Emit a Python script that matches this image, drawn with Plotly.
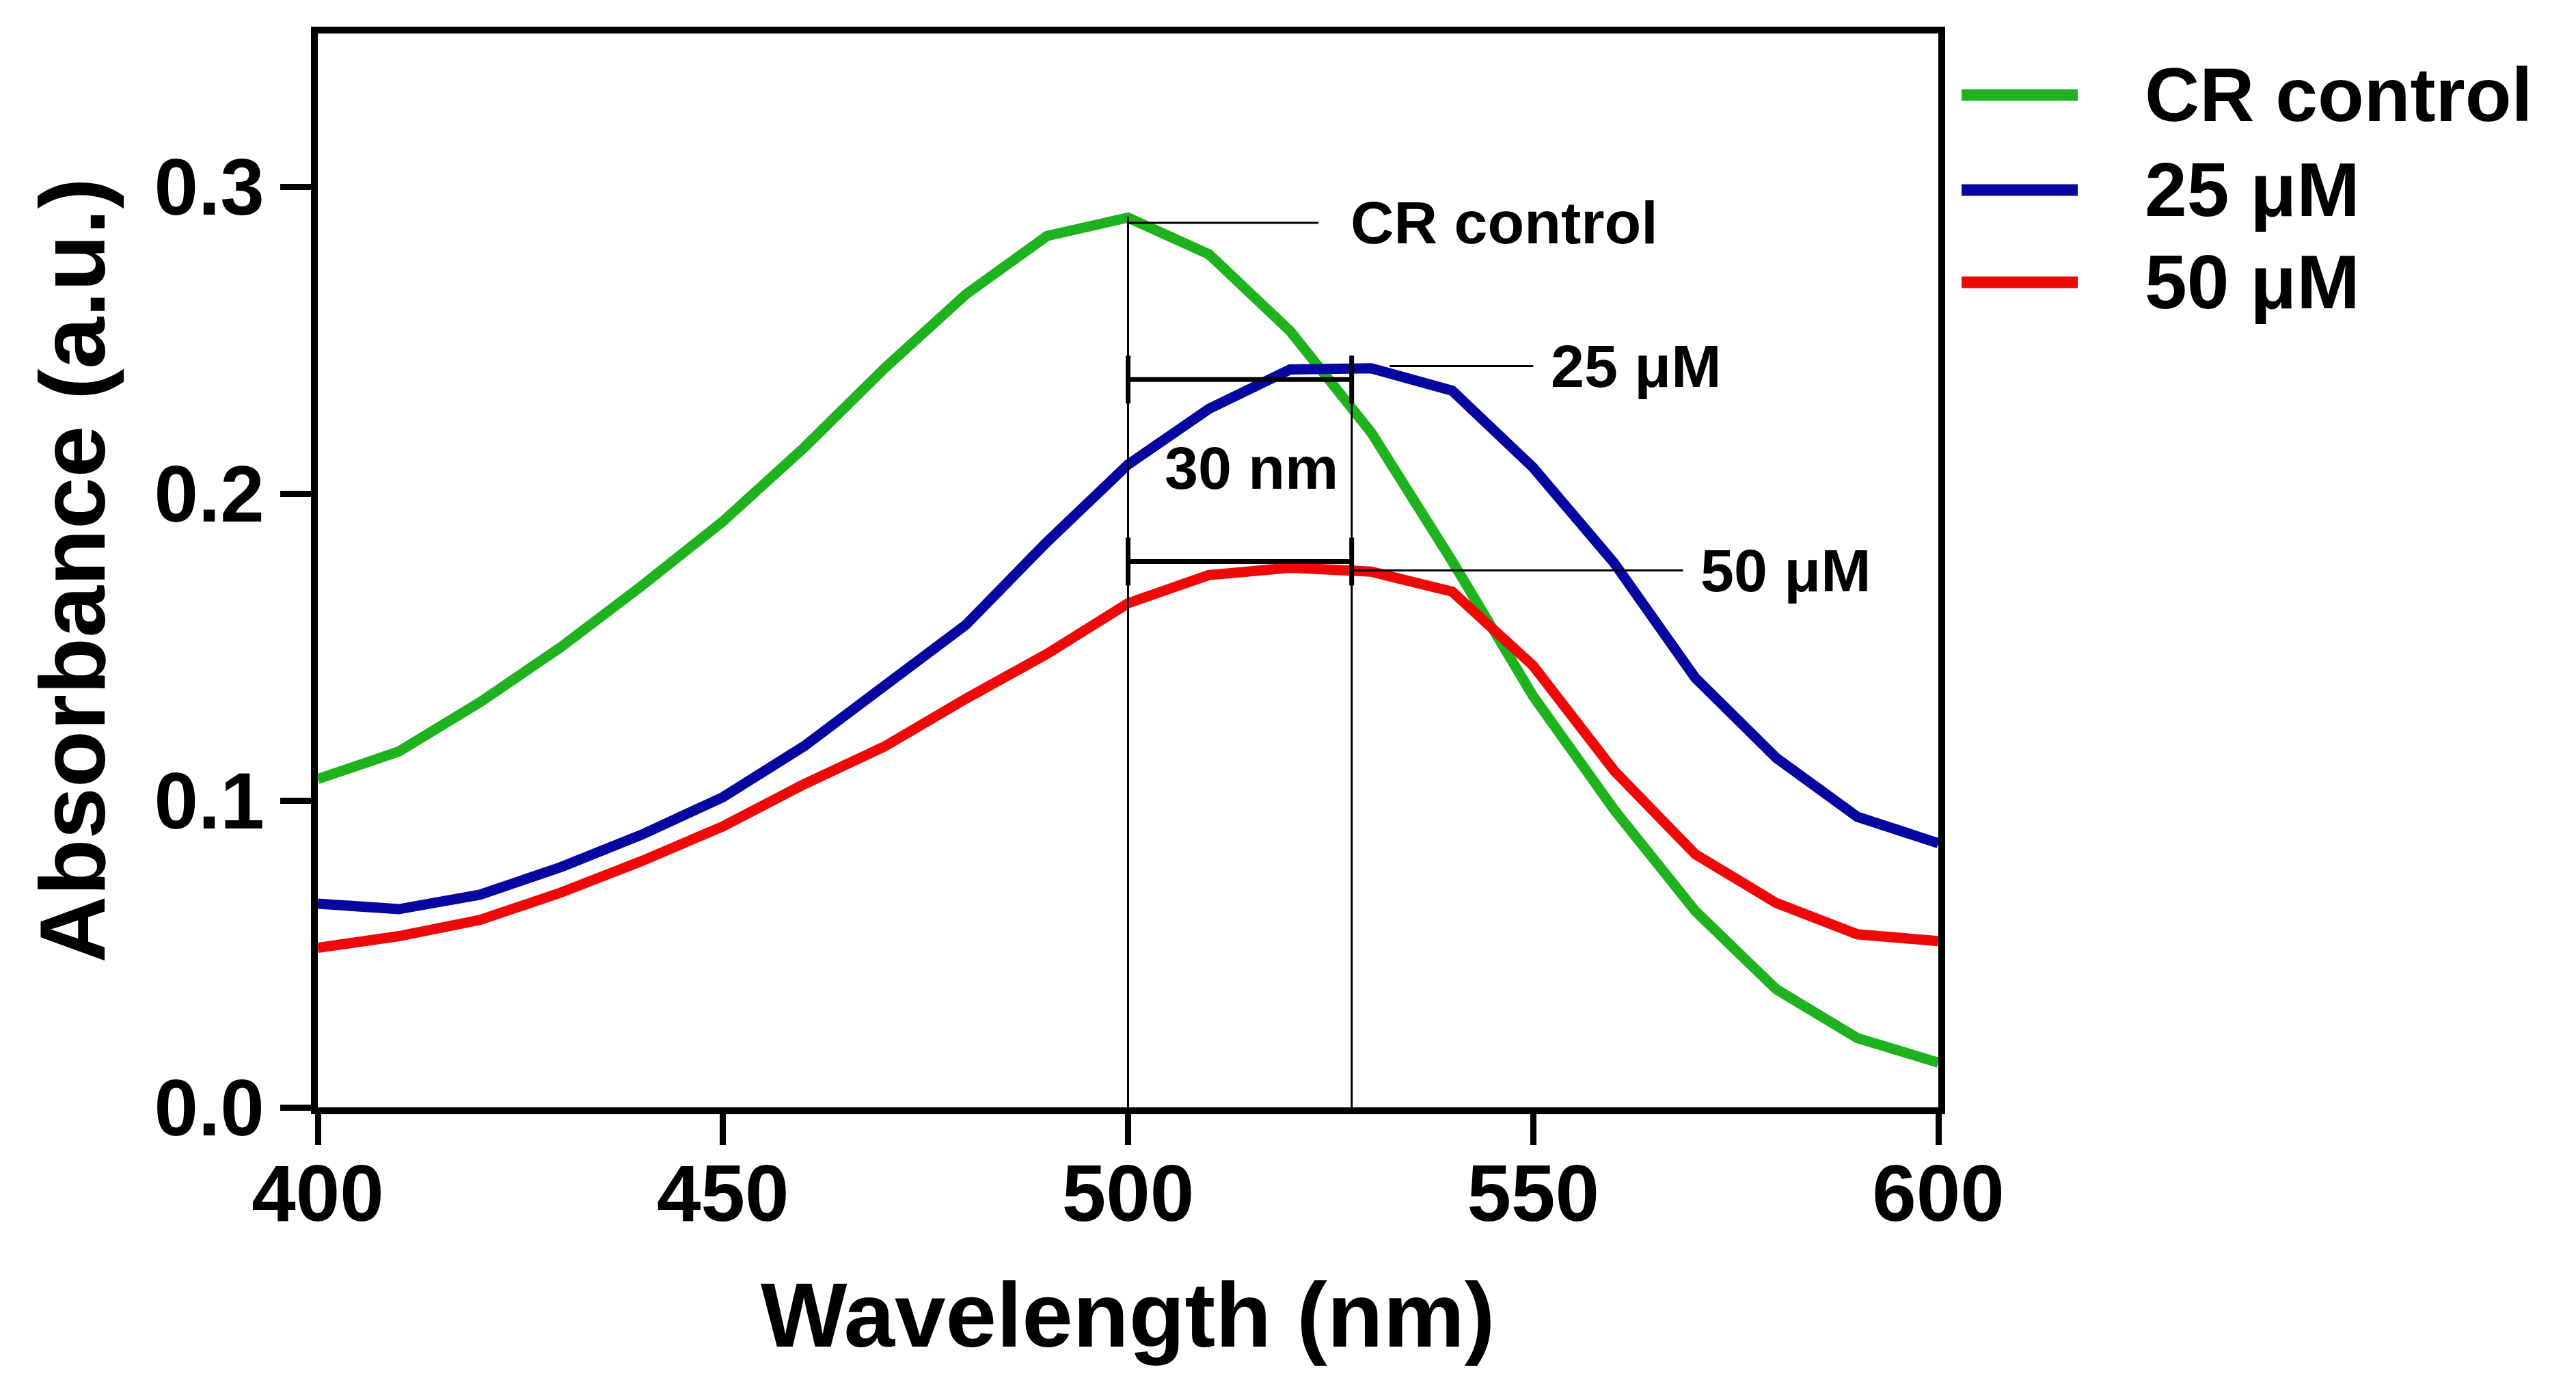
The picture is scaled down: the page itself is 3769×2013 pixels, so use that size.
import plotly.graph_objects as go

# ---- data ----
wavelength = [400, 410, 420, 430, 440, 450, 460, 470, 480, 490, 500,
              510, 520, 530, 540, 550, 560, 570, 580, 590, 600]
cr_control = [0.107, 0.116, 0.132, 0.150, 0.170, 0.191, 0.215, 0.241, 0.265, 0.284, 0.290,
              0.278, 0.253, 0.220, 0.178, 0.134, 0.097, 0.064, 0.0385, 0.0226, 0.0146]
um25 = [0.0664, 0.0646, 0.0693, 0.0783, 0.0889, 0.1011, 0.1177, 0.137, 0.1573, 0.1843, 0.2095,
        0.2277, 0.2405, 0.2409, 0.2336, 0.2085, 0.1774, 0.140, 0.1139, 0.0947, 0.0861]
um50 = [0.052, 0.0558, 0.0611, 0.070, 0.0803, 0.0916, 0.1053, 0.1177, 0.1332, 0.1478, 0.1643,
        0.1735, 0.1759, 0.1746, 0.1681, 0.1439, 0.1097, 0.0825, 0.0666, 0.0564, 0.0542]

series_names = ["CR control", "25 μM", "50 μM"]
series_colors = ["#1eb31e", "#0606a0", "#f00808"]
x_ticks = [400, 450, 500, 550, 600]
y_ticks = [0.0, 0.1, 0.2, 0.3]
x_title = "Wavelength (nm)"
y_title = "Absorbance (a.u.)"

# annotation geometry (wavelength / absorbance)
peak_ctrl = (500, 0.2903)
shift_x = 527.6
bracket_upper_y = 0.2372
bracket_lower_y = 0.1779
bracket_half = 0.0078

W, H = 3769, 2013
ML, MR, MT, MB = 457, 941, 41, 401
PW = W - ML - MR
PH = H - MT - MB

FONT = "Arial, Liberation Sans, Helvetica, sans-serif"

fig = go.Figure()
for name, ys, col in zip(series_names, [cr_control, um25, um50], series_colors):
    fig.add_trace(go.Scatter(x=wavelength, y=ys, mode="lines", name=name,
                             line=dict(color=col, width=15), showlegend=False))

shapes = []
thin = dict(color="black", width=3)
thick = dict(color="black", width=7)
# vertical guide lines
shapes.append(dict(type="line", x0=peak_ctrl[0], x1=peak_ctrl[0], y0=0, y1=peak_ctrl[1],
                   xref="x", yref="y", line=thin))
shapes.append(dict(type="line", x0=shift_x, x1=shift_x, y0=0, y1=bracket_upper_y + bracket_half,
                   xref="x", yref="y", line=thin))
# brackets
for by in [bracket_upper_y, bracket_lower_y]:
    shapes.append(dict(type="line", x0=peak_ctrl[0], x1=shift_x, y0=by, y1=by,
                       xref="x", yref="y", line=thick))
    for bx in [peak_ctrl[0], shift_x]:
        shapes.append(dict(type="line", x0=bx, x1=bx, y0=by - bracket_half, y1=by + bracket_half,
                           xref="x", yref="y", line=thick))
# leader lines
leaders = [((500, 523.5), 0.2883), ((532.3, 550.0), 0.2416), ((527.6, 568.5), 0.175)]
for (lx0, lx1), ly in leaders:
    shapes.append(dict(type="line", x0=lx0, x1=lx1, y0=ly, y1=ly, xref="x", yref="y", line=thin))

annotations = []
labels = [("CR control", 527.3, 0.2883), ("25 μM", 552.0, 0.2416), ("50 μM", 570.5, 0.175)]
for txt, ax_, ay_ in labels:
    annotations.append(dict(text=txt, x=ax_, y=ay_, xref="x", yref="y", xanchor="left",
                            yanchor="middle", showarrow=False,
                            font=dict(family=FONT, size=88, color="black", weight="bold")))
annotations.append(dict(text="30 nm", x=515.2, y=0.2085, xref="x", yref="y", showarrow=False,
                        xanchor="center", yanchor="middle",
                        font=dict(family=FONT, size=88, color="black", weight="bold")))

# pixel -> paper helpers
def px_to_paper_x(px):
    return (px - ML) / PW

def px_to_paper_y(py):
    return (H - MB - py) / PH

# x-axis title as annotation
annotations.append(dict(text=x_title, xref="paper", yref="paper", x=0.5,
                        y=px_to_paper_y(1915), xanchor="center", yanchor="middle",
                        showarrow=False,
                        font=dict(family=FONT, size=134, color="black", weight="bold")))

# custom legend
legend_rows = [131, 270, 405]
for name, col, ry in zip(series_names, series_colors, legend_rows):
    shapes.append(dict(type="line", xref="paper", yref="paper",
                       x0=px_to_paper_x(2862), x1=px_to_paper_x(3032),
                       y0=px_to_paper_y(ry), y1=px_to_paper_y(ry),
                       line=dict(color=col, width=17)))
    annotations.append(dict(text=name, xref="paper", yref="paper",
                            x=px_to_paper_x(3128), y=px_to_paper_y(ry),
                            xanchor="left", yanchor="middle", showarrow=False,
                            font=dict(family=FONT, size=111, color="black", weight="bold")))

axis_common = dict(showline=True, linecolor="black", linewidth=10, mirror=True,
                   ticks="outside", ticklen=45, tickwidth=9, tickcolor="black",
                   showgrid=False, zeroline=False,
                   tickfont=dict(family=FONT, size=116, color="black", weight="bold"))

fig.update_layout(
    width=W, height=H,
    margin=dict(l=ML, r=MR, t=MT, b=MB),
    paper_bgcolor="white", plot_bgcolor="white",
    shapes=shapes, annotations=annotations,
    xaxis=dict(range=[400, 600], tickvals=x_ticks, ticktext=[str(v) for v in x_ticks],
               ticklabelstandoff=-28, **axis_common),
    yaxis=dict(range=[0, 0.35], tickvals=y_ticks, ticktext=[f"{v:.1f}" for v in y_ticks],
               title=dict(text=y_title, standoff=30,
                          font=dict(family=FONT, size=136, color="black", weight="bold")),
               **axis_common),
)

fig.write_html("out.html")
